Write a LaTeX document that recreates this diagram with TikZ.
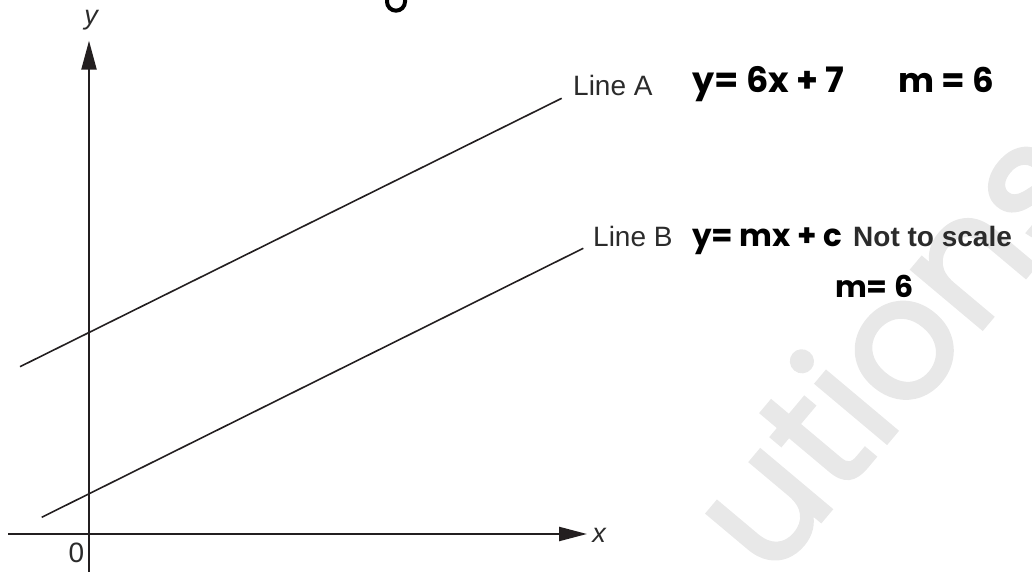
\documentclass[tikz,border=0pt]{standalone}
\usepackage{fontspec}
\setmainfont{Liberation Sans}
\newfontfamily\labfont{Liberation Sans}
\newfontfamily\handfont{Poppins}
\newfontfamily\wmfont{Poppins}[FakeBold=2]
\usetikzlibrary{arrows.meta}
\definecolor{axisgray}{HTML}{231F20}
\definecolor{labgray}{HTML}{2B2B2B}
\definecolor{wmgray}{HTML}{E8E8E8}
\begin{document}
\begin{tikzpicture}[x=1pt,y=1pt,
  axis/.style={line width=2.3pt, draw=axisgray, -{Triangle[length=29pt,width=15pt]}},
  graphline/.style={line width=1.6pt, draw=axisgray},
  lab/.style={font=\labfont\fontsize{28}{32}\selectfont, text=labgray, inner sep=0pt, anchor=base west},
  axlab/.style={font=\fontsize{28}{32}\selectfont, text=labgray, inner sep=0pt},
  hand/.style={font=\handfont\bfseries\fontsize{#1}{#1}\selectfont, text=black, inner sep=0pt, anchor=base west},
]
\useasboundingbox (0,0) rectangle (1032,572);
% watermark
\begin{scope}
\clip (0,0) rectangle (1032,572);
\node[rotate=50, font=\wmfont\fontsize{168}{168}\selectfont, text=wmgray, anchor=base west, inner sep=0pt] (wm) at (770,-10) {utions};
% clipped descender of handwritten g
\draw[line width=4pt, line cap=round] (387,575) -- (387,570.3) arc[start angle=180, end angle=360, radius=9] -- (405,575);
\end{scope}
% axes
\coordinate (ybot) at (89,0);
\coordinate (ytop) at (89,531.3);
\coordinate (xleft) at (8,38);
\coordinate (xright) at (587,38);
\draw[axis] (ybot) -- (ytop);
\draw[axis, -{Triangle[length=28pt,width=14pt]}] (xleft) -- (xright);
\node[axlab, font=\itshape\fontsize{27}{32}\selectfont] (ylab) at (91,552) {y};
\node[axlab, font=\itshape\fontsize{27}{32}\selectfont] (xlab) at (599,37) {x};
\node[axlab] (zero) at (76.5,19) {0};
% lines
\coordinate (a1) at (20,205.3);
\coordinate (a2) at (561.7,473.7);
\coordinate (b1) at (41.7,54.7);
\coordinate (b2) at (583.3,323.7);
\draw[graphline] (a1) -- (a2);
\draw[graphline] (b1) -- (b2);
% labels
\node[lab] (la) at (573,476) {Line A};
\node[lab] (lb) at (593,325) {Line B};
\node[font=\bfseries\fontsize{28}{32}\selectfont, text=labgray, inner sep=0pt, anchor=base west] (nts) at (853,325) {Not to scale};
% handwritten
\node[hand=35] (ha) at (692,479) {y= 6x + 7};
\node[hand=34] (hm) at (898,479) {m = 6};
\node[hand=31] (hb) at (692,325) {y= mx + c};
\node[hand=30] (hm2) at (835,274) {m= 6};
\end{tikzpicture}
\end{document}
